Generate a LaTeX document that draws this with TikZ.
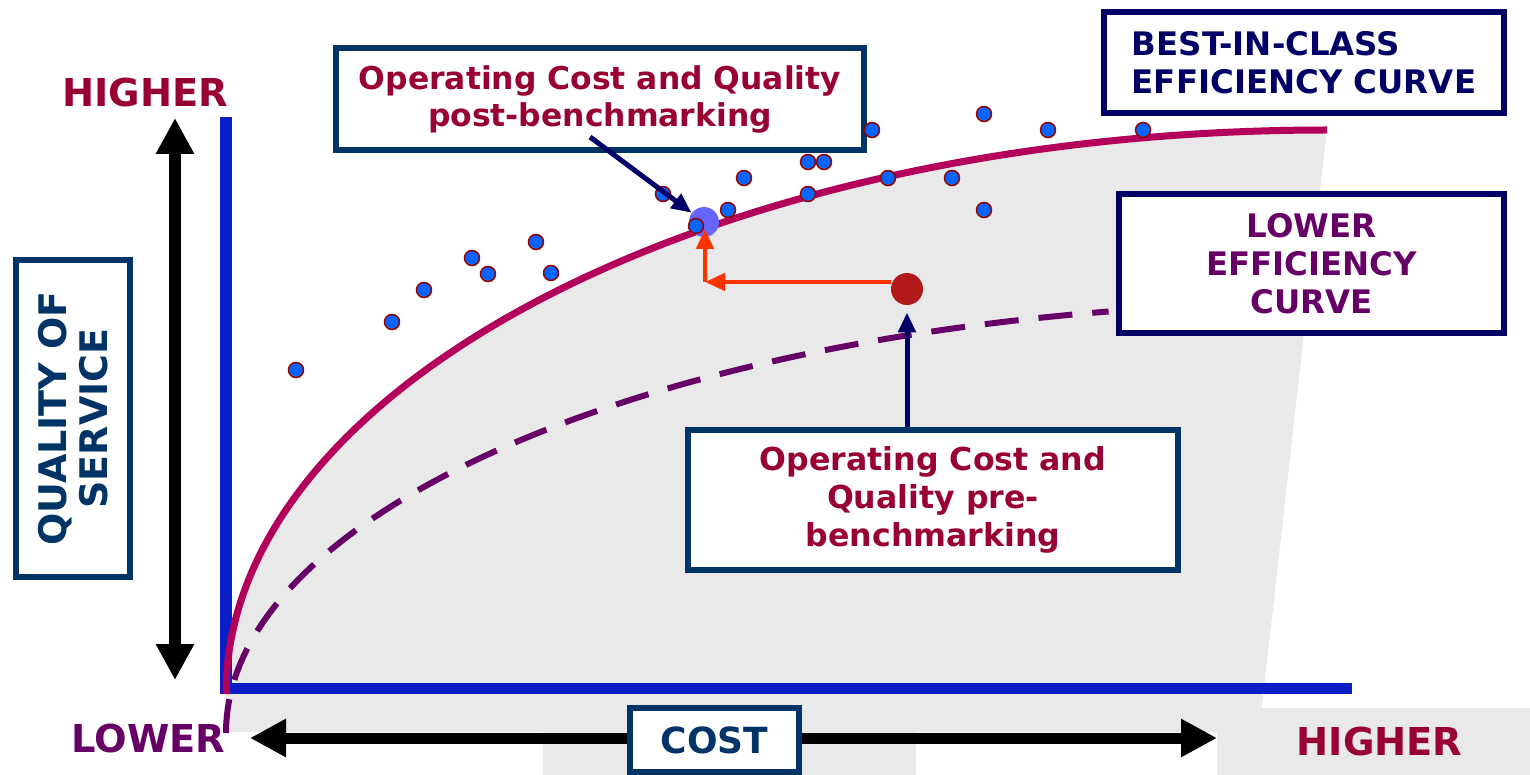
\documentclass[tikz,border=0pt]{standalone}
\usepackage{fontspec}
\setmainfont{DejaVu Sans}
\usepackage{xcolor}
\usepackage{tikz}
\usetikzlibrary{arrows.meta}

\definecolor{crimson}{HTML}{990033}
\definecolor{qblue}{HTML}{003366}
\definecolor{navy}{HTML}{000066}
\definecolor{plum}{HTML}{660066}
\definecolor{axisblue}{HTML}{0A1EC8}
\definecolor{bestred}{HTML}{B3005A}
\definecolor{dotblue}{HTML}{0066FF}
\definecolor{dotrim}{HTML}{990000}
\definecolor{newpt}{HTML}{6666FF}
\definecolor{oldpt}{HTML}{B21A1A}
\definecolor{shiftred}{HTML}{FF3300}
\definecolor{paper}{HTML}{E9E9E9}

\begin{document}
\begin{tikzpicture}[x=0.5pt,y=-0.5pt,>={Triangle[length=18pt,width=18pt]},line cap=butt]
 	\tikzstyle{tagbox}=[draw, fill=white, line width=3pt, inner sep=0pt, align=center, font=\fontsize{16.2}{19}\selectfont\bfseries]
 	\tikzstyle{axislabel}=[inner sep=0pt, font=\fontsize{19.2}{23}\selectfont\bfseries]
 	\tikzstyle{firm}=[circle, fill=dotblue, draw=dotrim, line width=0.75pt, minimum size=7.5pt, inner sep=0pt]
 	\tikzstyle{bigarrow}=[<->, black, line width=6pt]
 	\tikzstyle{navyarrow}=[->, >={Triangle[length=10pt,width=8.5pt]}, navy, line width=2.5pt]
 	\tikzstyle{redarrow}=[->, >={Triangle[length=10pt,width=8.5pt]}, shiftred, line width=2.3pt]

 	\useasboundingbox (0,0) rectangle (1530,775);

 	\fill[paper] (226,732) -- (226,694) arc[start angle=180, end angle=270, x radius=1101, y radius=564] -- (1259,732) -- cycle;
 	\fill[paper] (543,708) rectangle (916,775);
 	\fill[paper] (1217,708) rectangle (1530,775);

 	\coordinate (origin) at (226,688.5);
 	\coordinate (qtop)   at (226,117);
 	\coordinate (cend)   at (1352,688.5);
 	\draw[axisblue, line width=6pt] (qtop) -- (origin);
 	\draw[axisblue, line width=5.5pt] ([xshift=-3pt]origin) -- (cend);

 	\draw[bestred, line width=3.5pt] (226,694) arc[start angle=180, end angle=270, x radius=1101, y radius=564];
 	\draw[plum, line width=3pt, dash pattern=on 17pt off 10pt] (226,733) arc[start angle=180, end angle=258.6, x radius=1100, y radius=430];

 	\coordinate (qhi) at (175,118);
 	\coordinate (qlo) at (175,680);
 	\coordinate (clo) at (250,738);
 	\coordinate (chi) at (1217,738);
 	\path (qlo) edge[bigarrow] (qhi)
 	      (clo) edge[bigarrow, line width=5.5pt] (chi);

 	\node[axislabel, crimson] (yhigh) at (145,92.5) {HIGHER};
 	\node[axislabel, plum]    (xlow)  at (148.5,738.5) {LOWER};
 	\node[axislabel, crimson] (xhigh) at (1379.5,742) {HIGHER};

 	\node[tagbox, draw=qblue, text=qblue, rotate=90, minimum width=158.5pt, minimum height=57pt, font=\fontsize{19}{20.5}\selectfont\bfseries] (qos) at (73,418.5) {QUALITY OF\\SERVICE};
 	\node[tagbox, draw=qblue, text=qblue, minimum width=84.5pt, minimum height=32pt, font=\fontsize{18}{20}\selectfont\bfseries] (cost) at (714.5,740) {COST};
 	\node[tagbox, draw=navy, text=navy, align=left, minimum width=200pt, minimum height=50.5pt] (best) at (1304,62.5) {BEST-IN-CLASS\\EFFICIENCY CURVE};
 	\node[tagbox, draw=navy, text=plum, minimum width=192.5pt, minimum height=69.5pt] (lower) at (1311.5,263.5) {LOWER\\EFFICIENCY\\CURVE};
 	\node[tagbox, draw=qblue, text=crimson, minimum width=264pt, minimum height=51pt, font=\fontsize{15.7}{18.5}\selectfont\bfseries] (post) at (600,99) {Operating Cost and Quality\\post-benchmarking};
 	\node[tagbox, draw=qblue, text=crimson, minimum width=245pt, minimum height=70pt, font=\fontsize{15.8}{19.2}\selectfont\bfseries] (pre) at (933,500) {Operating Cost and\\Quality pre-\\benchmarking};

 	\node[circle, fill=newpt, minimum size=15pt, inner sep=0pt] (hit) at (704,222) {};
 	\node[firm] (d1)  at (296,370) {};
 	\node[firm] (d2)  at (392,322) {};
 	\node[firm] (d3)  at (424,290) {};
 	\node[firm] (d4)  at (472,258) {};
 	\node[firm] (d5)  at (488,274) {};
 	\node[firm] (d6)  at (536,242) {};
 	\node[firm] (d7)  at (551,273) {};
 	\node[firm] (d8)  at (663,194) {};
 	\node[firm] (d9)  at (696,226) {};
 	\node[firm] (d10) at (728,210) {};
 	\node[firm] (d11) at (744,178) {};
 	\node[firm] (d12) at (808,162) {};
 	\node[firm] (d13) at (824,162) {};
 	\node[firm] (d14) at (808,194) {};
 	\node[firm] (d15) at (872,130) {};
 	\node[firm] (d16) at (888,178) {};
 	\node[firm] (d17) at (952,178) {};
 	\node[firm] (d18) at (984,114) {};
 	\node[firm] (d19) at (984,210) {};
 	\node[firm] (d20) at (1048,130) {};
 	\node[firm] (d21) at (1143,130) {};
 	\node[circle, fill=oldpt, minimum size=16pt, inner sep=0pt] (start) at (907,289) {};

 	\coordinate (turn)  at (705,282);
 	\coordinate (reach) at (705,229);
 	\path (start.west |- turn) edge[redarrow] (turn)
 	      (turn) edge[redarrow] (reach)
 	      ([xshift=-5pt,yshift=8pt]post.south) edge[navyarrow] (hit)
 	      (start |- pre.north) edge[navyarrow, shorten >=3.5pt] (start);
\end{tikzpicture}
\end{document}
